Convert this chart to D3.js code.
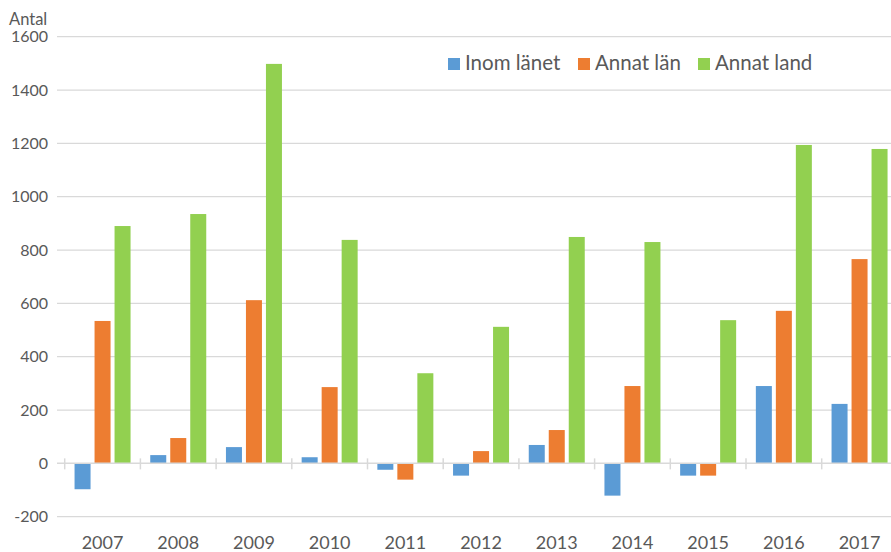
<!DOCTYPE html>
<html>
<head>
<meta charset="utf-8">
<script src="https://cdn.jsdelivr.net/npm/d3@7"></script>
<style>
html,body{margin:0;padding:0;background:#fff;}
svg{display:block;}
text{font-family:Lato,"Open Sans",sans-serif;fill:#595959;}
</style>
</head>
<body>
<svg id="chart" width="891" height="552"></svg>
<script>
const years = ["2007","2008","2009","2010","2011","2012","2013","2014","2015","2016","2017"];
const seriesNames = ["Inom länet","Annat län","Annat land"];
const inomLanet = [-97, 31, 61, 23, -24, -46, 69, -121, -46, 290, 223];
const annatLan = [534, 95, 612, 286, -61, 46, 125, 290, -46, 572, 766];
const annatLand = [890, 935, 1498, 838, 338, 512, 849, 830, 537, 1194, 1179];
const yTicks = [-200, 0, 200, 400, 600, 800, 1000, 1200, 1400, 1600];
const colors = ["#5b9bd5", "#ed7d31", "#92d050"];

const seriesValues = [inomLanet, annatLan, annatLand];
const svg = d3.select("#chart");

const y = d3.scaleLinear().domain([-200, 1600]).range([516.7, 36.7]);
const x0 = d3.scaleBand().domain(years).range([64.7, 64.7 + 11 * 75.7]).padding(0);
const groupW = 56;
const x1 = d3.scaleBand().domain(seriesNames).range([0, groupW]).paddingInner(0.2).paddingOuter(0);
const groupOff = (x0.bandwidth() - groupW) / 2;

// gridlines
svg.append("g").selectAll("line").data(yTicks.filter(d => d !== 0)).join("line")
  .attr("x1", 57).attr("x2", 891)
  .attr("y1", d => y(d)).attr("y2", d => y(d))
  .attr("stroke", "#d9d9d9").attr("stroke-width", 1.3);

// y labels
svg.append("g").selectAll("text").data(yTicks).join("text")
  .attr("x", 48).attr("y", d => y(d)).attr("dy", "0.36em")
  .attr("text-anchor", "end").style("font-size", "16px")
  .text(d => d);

svg.append("text").attr("x", 9).attr("y", 25).style("font-size", "16.5px").text("Antal");

// bars
const rows = years.map((yr, i) => ({ yr, vals: seriesNames.map((s, j) => ({ s, j, v: seriesValues[j][i] })) }));
const groups = svg.append("g").selectAll("g").data(rows).join("g")
  .attr("transform", d => `translate(${x0(d.yr) + groupOff},0)`);
groups.selectAll("rect").data(d => d.vals).join("rect")
  .attr("x", d => x1(d.s)).attr("width", x1.bandwidth())
  .attr("y", d => Math.min(y(d.v), y(0)))
  .attr("height", d => Math.abs(y(d.v) - y(0)))
  .attr("fill", d => colors[d.j]);

// zero axis line and ticks
svg.append("line").attr("x1", 57).attr("x2", 891).attr("y1", y(0)).attr("y2", y(0))
  .attr("stroke", "#d9d9d9").attr("stroke-width", 1.5);
const bounds = years.map(d => x0(d)).concat([x0(years[years.length - 1]) + x0.bandwidth()]);
svg.append("g").selectAll("line").data(bounds).join("line")
  .attr("x1", d => d).attr("x2", d => d)
  .attr("y1", y(0) - 5).attr("y2", y(0) + 6)
  .attr("stroke", "#d9d9d9").attr("stroke-width", 1.5);

// x labels
svg.append("g").selectAll("text").data(years).join("text")
  .attr("x", d => x0(d) + x0.bandwidth() / 2).attr("y", 549)
  .attr("text-anchor", "middle").style("font-size", "18px")
  .text(d => d);

// legend
const legX = [448, 578, 698];
const leg = svg.append("g").selectAll("g").data(seriesNames).join("g")
  .attr("transform", (d, i) => `translate(${legX[i]},0)`);
leg.append("rect").attr("x", 0).attr("y", 58).attr("width", 12).attr("height", 12)
  .attr("fill", (d, i) => colors[i]);
leg.append("text").attr("x", 17).attr("y", 70).style("font-size", "20.5px").text(d => d);
</script>
</body>
</html>
